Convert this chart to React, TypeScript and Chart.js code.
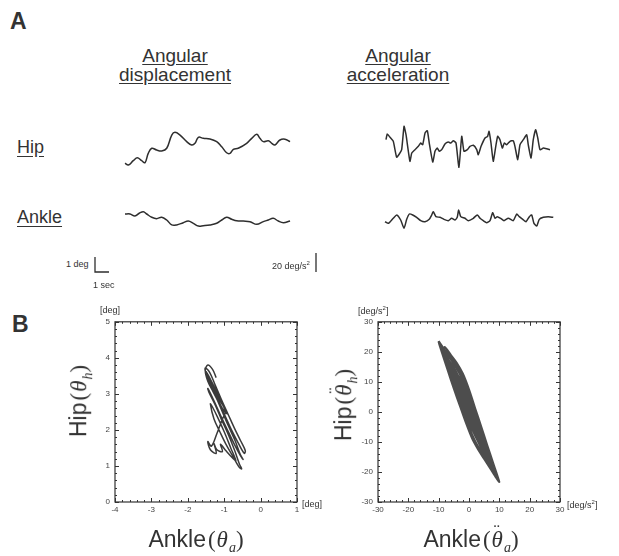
import React, { useEffect, useRef } from "react";
import { Chart, registerables } from "chart.js";

Chart.register(...registerables);

const INK = "#2e2e2e";
const SANS = "'Liberation Sans', Arial, Helvetica, sans-serif";
const SERIF = "'Liberation Serif', 'Times New Roman', serif";

// ---------- Panel A: time traces ----------
// Hip angular displacement (deg) vs time (s)
const hipDispTime = [0, 0.24, 0.59, 0.88, 1.19, 1.43, 1.66, 1.91, 2.26, 2.62, 2.98, 3.34, 3.57, 3.93, 4.41, 4.76, 5.0, 5.24, 5.59, 6.07, 6.55, 6.91, 7.26, 7.5, 7.74, 8.09, 8.69, 9.05, 9.41, 9.64, 9.88, 10.24, 10.48, 10.71, 11.07, 11.43, 11.79];
const hipDispDeg = [0.95, 0.83, 1.12, 1.32, 1.12, 0.99, 1.61, 1.95, 1.83, 1.77, 1.95, 2.83, 3.01, 2.83, 2.39, 2.17, 2.28, 2.68, 2.61, 2.57, 2.39, 2.05, 1.65, 1.61, 1.88, 1.95, 2.28, 2.61, 2.88, 2.61, 2.39, 2.45, 2.28, 2.17, 2.5, 2.55, 2.39];

// Ankle angular displacement (deg) vs time (s)
const ankleDispTime = [0, 0.36, 0.71, 1.02, 1.31, 1.55, 1.91, 2.26, 2.62, 2.98, 3.34, 3.69, 4.16, 4.52, 4.88, 5.24, 5.59, 6.07, 6.55, 6.91, 7.26, 7.62, 7.98, 8.45, 8.93, 9.41, 9.88, 10.24, 10.59, 10.95, 11.31, 11.79];
const ankleDispDeg = [-0.7, -0.7, -0.83, -0.65, -0.55, -0.7, -0.92, -1.01, -0.92, -1.1, -1.43, -1.43, -1.28, -1.17, -1.32, -1.5, -1.48, -1.43, -1.32, -1.1, -0.92, -1.05, -1.15, -1.17, -1.21, -1.39, -1.21, -1.1, -0.99, -1.17, -1.28, -1.17];

// Hip angular acceleration (deg/s^2) vs time (s)
const hipAccTime = [0, 0.09, 0.29, 0.52, 0.76, 0.95, 1.12, 1.29, 1.43, 1.71, 1.84, 2.07, 2.31, 2.48, 2.62, 2.79, 2.95, 3.09, 3.34, 3.5, 3.66, 3.81, 3.98, 4.21, 4.45, 4.62, 4.81, 5.0, 5.21, 5.41, 5.57, 5.81, 6.0, 6.24, 6.48, 6.59, 6.79, 7.07, 7.26, 7.36, 7.5, 7.66, 7.84, 7.98, 8.14, 8.31, 8.45, 8.62, 8.86, 9.09, 9.21, 9.41, 9.57, 9.81, 10.05, 10.16, 10.36, 10.52, 10.69, 10.84, 11.0, 11.24, 11.48, 11.71];
const hipAccVal = [7.7, 13.7, 10.2, 6.0, -10.8, -7.4, -2.8, 21.8, 12.9, -15.1, -6.3, -2.8, 0.7, 4.2, 2.4, 14.7, 17.2, 4.2, -15.8, -4.5, -1.1, -4.5, -2.8, 3.2, 5.3, 4.2, 6.6, 4.2, -21.4, 11.3, -4.5, -2.8, 0.7, 1.8, -2.8, -8.1, 0.7, 9.5, 11.3, 16.5, 4.2, -15.1, 0.7, 11.3, 7.7, -1.1, 4.2, 2.4, 6.0, 6.6, 0.7, -13.4, 2.4, 7.7, 12.9, 2.4, -11.6, 7.7, 18.2, 9.5, -2.8, -1.1, -1.8, -2.8];

// Ankle angular acceleration (deg/s^2) vs time (s)
const ankleAccTime = [0, 0.24, 0.59, 0.84, 1.12, 1.36, 1.55, 1.74, 1.98, 2.26, 2.55, 2.86, 3.16, 3.34, 3.45, 3.64, 3.93, 4.21, 4.52, 4.76, 5.0, 5.16, 5.26, 5.41, 5.71, 5.95, 6.31, 6.59, 6.79, 7.02, 7.26, 7.5, 7.69, 7.86, 8.02, 8.26, 8.5, 8.81, 9.16, 9.41, 9.59, 9.84, 10.07, 10.31, 10.48, 10.64, 10.84, 11.02, 11.31, 11.66, 12.02];
const ankleAccVal = [-3.9, -5.6, -0.3, 3.2, -2.1, -10.8, -1.4, 4.2, 3.2, 0.7, -2.8, -3.9, -1.4, 3.2, 6.6, 1.4, 0.7, -1.4, -2.8, -0.3, -2.1, 0.7, 8.4, 1.4, -0.3, -2.8, -0.3, 3.2, -0.3, -2.8, -4.9, -2.8, 5.6, -0.3, 1.4, -0.3, -2.8, -0.3, -2.8, 4.2, 1.4, -1.4, -3.9, 1.4, 3.2, -5.6, -8.4, -1.4, 0.7, 1.4, 0.7];

// Scale bars
const scaleBarSec = 1;
const scaleBarDeg = 1;
const scaleBarAcc = 20;

// ---------- Panel B: phase plots ----------
const phaseAnkleDeg = [-1.22, -1.32, -1.45, -1.52, -1.45, -1.3, -1.15, -0.98, -0.8, -0.62, -0.45, -0.42, -0.55, -0.72, -0.9, -1.08, -1.25, -1.4, -1.52, -1.5, -1.38, -1.22, -1.05, -0.88, -0.7, -0.55, -0.48, -0.55, -0.72, -0.92, -1.12, -1.3, -1.45, -1.42, -1.25, -1.08, -0.9, -0.72, -0.58, -0.52, -0.6, -0.78, -0.95, -1.12, -1.28, -1.38, -1.33, -1.18, -1.0, -0.82, -0.68, -0.75, -0.95, -1.1, -1.05, -1.2, -1.28, -1.22, -1.38, -1.45, -1.35, -1.2, -1.05, -0.95, -1.08, -1.25, -1.42, -1.5, -1.35, -1.18, -1.02, -0.92, -1.05, -1.22, -1.38, -1.48];
const phaseHipDeg = [3.45, 3.68, 3.8, 3.65, 3.35, 3.05, 2.75, 2.4, 2.0, 1.65, 1.35, 1.42, 1.7, 2.05, 2.45, 2.85, 3.25, 3.6, 3.72, 3.55, 3.25, 2.9, 2.5, 2.1, 1.7, 1.3, 1.18, 1.28, 1.6, 2.02, 2.45, 2.85, 3.15, 3.05, 2.7, 2.3, 1.9, 1.45, 1.05, 0.92, 0.98, 1.3, 1.6, 1.95, 2.3, 2.72, 2.65, 2.35, 1.95, 1.5, 1.15, 1.2, 1.42, 1.6, 1.4, 1.45, 1.62, 1.35, 1.45, 1.68, 1.55, 1.9, 2.3, 2.55, 2.75, 3.1, 3.45, 3.62, 3.35, 3.0, 2.65, 2.45, 2.6, 2.95, 3.3, 3.58];

const phaseAnkleAcc = [-10, -8, -6, -4, -2, 0, 2, 4, 6, 8, 9.5, 9, 7, 5, 3, 1, -1, -3, -5, -7, -9, -8.5, -6, -4, -2, 0, 2, 4, 6, 8, 10, 9, 7, 5, 3, 1, -1, -3, -5, -7, -9, -10, -9, -7, -5, -3, -1, 1, 3, 5, 7, 8.5, 8, 6, 4, 2, 0, -2, -4, -6, -8, -8, -6, -4, -2, 0, 2, 4, 6, 7, 6, 4, 2, 0, -2, -4, -6, -5, -3, -1, 1, 3, 5, 7, 5, 3, 1, -1, -3, -5, -7, -9.5, -9, -7, -5, -3, -1, 1, 3, 5, 7, 9, 9.5, 8, 6, 4, 2, 0, -2, -4, -6, -8, -8, -6, -4, -2, 0, 2, 4, 6, 8, 8, 6, 4, 2, 0, -2, -4, -6, -8, -10, -9, -6, -3, 0, 3, 6, 9, 9, 6, 3, 0, -3, -6, -9, -9, -6, -3, 0, 3, 6, 9, 8, 5, 2, -1, -4, -7, -10, -8, -5, -2, 1, 4, 7, 7, 4, 1, -2, -5, -8];
const phaseHipAcc = [23.6, 20.6, 17.5, 14.3, 10.7, 6, 0.3, -5.3, -11.5, -17.1, -22.1, -21.5, -17.8, -14.7, -11.5, -7.8, -3.2, 2.5, 8.2, 14.3, 20.5, 21.3, 18, 15.3, 11.7, 7, 1.3, -4.8, -11, -17.1, -23.3, -22, -18.8, -15.7, -12.5, -8.8, -3.7, 2, 7.7, 13.8, 20, 23.3, 21.5, 17.8, 14.7, 11, 6.8, 1.7, -4, -9.7, -15.3, -19.8, -19.1, -15, -11.3, -7.7, -3, 2.2, 7.3, 13, 18.1, 21.6, 19, 16.3, 12.7, 7.5, 1.3, -5.3, -12, -15.8, -16, -13.3, -9.7, -5, 0.7, 6.3, 12.5, 13.7, 10, 5.3, 0.2, -5, -10.7, -16.3, -12.7, -8.5, -4.3, 0.3, 5.5, 10.7, 16.3, 22.1, 22, 18.8, 16.2, 12.5, 7.3, 1.7, -4, -9.7, -15.3, -20.5, -22.1, -18.6, -13.5, -8.3, -3.2, 1.5, 5.7, 9.8, 14, 18.6, 17.6, 12, 6.3, 1.2, -3.5, -7.7, -11.3, -15, -18.6, -17.6, -12, -5.8, -0.2, 4.5, 8.7, 12.3, 16, 19.6, 23.3, 21.5, 15.5, 9, 2, -5.5, -13.5, -21, -21.5, -16, -10, -3.5, 4, 12, 20, 21, 13.5, 6, -1, -7.5, -14, -21, -18.6, -11.2, -4.2, 2.8, 9.8, 16.3, 23.3, 18.6, 10.2, 2.7, -3.8, -10.3, -16.3, -15.8, -8.3, -2.8, 4.7, 12.7, 19.1];

const dispXTicks = [-4, -3, -2, -1, 0, 1];
const dispYTicks = [0, 1, 2, 3, 4, 5];
const accXTicks = [-30, -20, -10, 0, 10, 20, 30];
const accYTicks = [-30, -20, -10, 0, 10, 20, 30];

// ---------- components ----------
const PAD = 6;

type TraceProps = {
  t: number[]; v: number[]; xMin?: number; xMax: number; yMin: number; yMax: number;
  left: number; top: number; width: number; height: number; tension?: number; lineWidth?: number;
};

function Trace(p: TraceProps) {
  const ref = useRef<HTMLCanvasElement>(null);
  useEffect(() => {
    const chart = new Chart(ref.current as HTMLCanvasElement, {
      type: "line",
      data: {
        datasets: [{
          data: p.t.map((x, i) => ({ x, y: p.v[i] })),
          borderColor: INK, borderWidth: p.lineWidth ?? 1.5, pointRadius: 0,
          tension: p.tension ?? 0.4, fill: false, clip: false,
        } as any],
      },
      options: {
        responsive: false, animation: false, devicePixelRatio: 1,
        layout: { padding: PAD },
        plugins: { legend: { display: false }, tooltip: { enabled: false } },
        scales: {
          x: { type: "linear", display: false, min: p.xMin ?? 0, max: p.xMax },
          y: { type: "linear", display: false, min: p.yMin, max: p.yMax },
        },
      },
    });
    return () => chart.destroy();
  }, []);
  return (
    <canvas ref={ref} width={p.width + 2 * PAD} height={p.height + 2 * PAD}
      style={{ position: "absolute", left: p.left - PAD, top: p.top - PAD }} />
  );
}

const frameTicks = {
  id: "frameTicks",
  afterDraw(chart: any, _args: any, opts: any) {
    const { ctx, chartArea } = chart;
    const { left, right, top, bottom } = chartArea;
    const xs = chart.scales.x, ys = chart.scales.y;
    ctx.save();
    ctx.strokeStyle = "#333";
    ctx.lineWidth = 1.2;
    ctx.strokeRect(left, top, right - left, bottom - top);
    ctx.lineWidth = 1;
    ctx.beginPath();
    const isMajor = (v: number, arr: number[]) => arr.some((a) => Math.abs(a - v) < 1e-6);
    for (let v = xs.min; v <= xs.max + 1e-9; v += opts.minorX) {
      const px = Math.round(xs.getPixelForValue(v)) + 0.5;
      const len = isMajor(v, opts.xTicks) ? 4 : 2;
      ctx.moveTo(px, bottom); ctx.lineTo(px, bottom - len);
      ctx.moveTo(px, top); ctx.lineTo(px, top + len);
    }
    for (let v = ys.min; v <= ys.max + 1e-9; v += opts.minorY) {
      const py = Math.round(ys.getPixelForValue(v)) + 0.5;
      const len = isMajor(v, opts.yTicks) ? 4 : 2;
      ctx.moveTo(left, py); ctx.lineTo(left + len, py);
      ctx.moveTo(right, py); ctx.lineTo(right - len, py);
    }
    ctx.stroke();
    ctx.restore();
  },
};

type PhaseProps = {
  xs: number[]; ys: number[]; xTicks: number[]; yTicks: number[]; minorX: number; minorY: number;
  left: number; top: number; width: number; height: number; yLabelW: number;
  tension: number; lineWidth: number; color: string;
};

function Phase(p: PhaseProps) {
  const ref = useRef<HTMLCanvasElement>(null);
  useEffect(() => {
    const tickFont = { family: SANS, size: 8 };
    const chart = new Chart(ref.current as HTMLCanvasElement, {
      type: "scatter",
      data: {
        datasets: [{
          data: p.xs.map((x, i) => ({ x, y: p.ys[i] })),
          showLine: true, borderColor: p.color, borderWidth: p.lineWidth,
          pointRadius: 0, tension: p.tension, fill: false,
        } as any],
      },
      options: {
        responsive: false, animation: false, devicePixelRatio: 1,
        layout: { padding: { left: 4, right: 8, top: 7, bottom: 1 } },
        plugins: {
          legend: { display: false }, tooltip: { enabled: false },
          frameTicks: { minorX: p.minorX, minorY: p.minorY, xTicks: p.xTicks, yTicks: p.yTicks },
        } as any,
        scales: {
          x: {
            type: "linear", min: p.xTicks[0], max: p.xTicks[p.xTicks.length - 1],
            grid: { display: false, drawTicks: false }, border: { display: false },
            ticks: { font: tickFont, color: "#444", padding: 3, autoSkip: false, maxRotation: 0 },
            afterBuildTicks: (s: any) => { s.ticks = p.xTicks.map((value) => ({ value })); },
            afterFit: (s: any) => { s.height = 14; },
          },
          y: {
            type: "linear", min: p.yTicks[0], max: p.yTicks[p.yTicks.length - 1],
            grid: { display: false, drawTicks: false }, border: { display: false },
            ticks: { font: tickFont, color: "#444", padding: 5, autoSkip: false },
            afterBuildTicks: (s: any) => { s.ticks = p.yTicks.map((value) => ({ value })); },
            afterFit: (s: any) => { s.width = p.yLabelW; },
          },
        },
      } as any,
      plugins: [frameTicks],
    });
    return () => chart.destroy();
  }, []);
  return (
    <canvas ref={ref} width={p.width} height={p.height}
      style={{ position: "absolute", left: p.left, top: p.top }} />
  );
}

const abs = (left: number, top: number, extra: React.CSSProperties = {}): React.CSSProperties => ({
  position: "absolute", left, top, whiteSpace: "nowrap", lineHeight: 1, ...extra,
});

function Theta({ dots, sub }: { dots?: boolean; sub: string }) {
  return (
    <span style={{ fontFamily: SERIF, marginLeft: 2 }}>
      (
      <span style={{ position: "relative", display: "inline-block", marginLeft: 1 }}>
        <i>θ</i>
        {dots ? (
          <span style={{ position: "absolute", left: 2, top: -7, fontSize: 19, fontStyle: "normal" }}>¨</span>
        ) : null}
      </span>
      <sub style={{ fontSize: 14, fontStyle: "italic", marginLeft: 1 }}>{sub}</sub>)
    </span>
  );
}

export default function App() {
  const heading: React.CSSProperties = {
    fontSize: 19, lineHeight: "19px", textAlign: "center", color: "#333",
    textDecoration: "underline", textUnderlineOffset: 2, transform: "translateX(-50%)",
  };
  const axisBig: React.CSSProperties = { fontSize: 23, color: "#333" };
  const small: React.CSSProperties = { fontSize: 9, color: "#333" };
  return (
    <div style={{ position: "absolute", left: 0, top: 0, width: 619, height: 556, background: "#fff", fontFamily: SANS, overflow: "hidden" }}>
      {/* Panel A */}
      <div style={abs(10, 10, { fontSize: 23, fontWeight: "bold", color: "#333" })}>A</div>
      <div style={abs(175, 45.5, heading)}>Angular<br />displacement</div>
      <div style={abs(398, 45.5, heading)}>Angular<br />acceleration</div>
      <div style={abs(17, 138, { fontSize: 18, color: "#333", textDecoration: "underline", textUnderlineOffset: 3 })}>Hip</div>
      <div style={abs(17, 208, { fontSize: 18, color: "#333", textDecoration: "underline", textUnderlineOffset: 3 })}>Ankle</div>

      <Trace t={hipDispTime} v={hipDispDeg} xMax={11.786} yMin={0.5} yMax={3.5} left={125} top={125} width={165} height={45} />
      <Trace t={ankleDispTime} v={ankleDispDeg} xMax={11.786} yMin={-1.9} yMax={-0.1} left={125} top={205} width={165} height={27} />
      <Trace t={hipAccTime} v={hipAccVal} xMax={11.714} yMin={-26.32} yMax={26.32} left={386} top={122} width={164} height={50} tension={0.15} />
      <Trace t={ankleAccTime} v={ankleAccVal} xMax={12.0} yMin={-18.95} yMax={18.95} left={385} top={200} width={168} height={36} tension={0.2} />

      {/* scale bars */}
      <Trace t={[0, 0, scaleBarSec]} v={[scaleBarDeg, 0, 0]} xMax={1} yMin={0} yMax={1} left={95} top={257} width={14} height={15} tension={0} lineWidth={1.3} />
      <Trace t={[0, 0]} v={[0, scaleBarAcc]} xMin={-1} xMax={1} yMin={0} yMax={20} left={314} top={253} width={4} height={19} tension={0} lineWidth={1.3} />
      <div style={abs(66, 259.5, small)}>1 deg</div>
      <div style={abs(93, 280.5, small)}>1 sec</div>
      <div style={abs(272, 259.5, small)}>20 deg/s<sup style={{ fontSize: 6 }}>2</sup></div>

      {/* Panel B */}
      <div style={abs(12, 313, { fontSize: 23, fontWeight: "bold", color: "#333" })}>B</div>

      <Phase xs={phaseAnkleDeg} ys={phaseHipDeg} xTicks={dispXTicks} yTicks={dispYTicks} minorX={0.2} minorY={0.2}
        left={95} top={312} width={210} height={205} yLabelW={16} tension={0.35} lineWidth={1.5} color="#3a3a3a" />
      <Phase xs={phaseAnkleAcc} ys={phaseHipAcc} xTicks={accXTicks} yTicks={accYTicks} minorX={2} minorY={2}
        left={352} top={312} width={216} height={205} yLabelW={22} tension={0.25} lineWidth={2} color="#4d4d4d" />

      <div style={abs(100, 305.5, small)}>[deg]</div>
      <div style={abs(302, 500, small)}>[deg]</div>
      <div style={abs(358, 305, small)}>[deg/s<sup style={{ fontSize: 6 }}>2</sup>]</div>
      <div style={abs(567, 499, small)}>[deg/s<sup style={{ fontSize: 6 }}>2</sup>]</div>

      <div style={abs(81, 401, { ...axisBig, transform: "translate(-50%,-50%) rotate(-90deg)" })}>
        Hip<Theta sub="h" />
      </div>
      <div style={abs(346, 405, { ...axisBig, transform: "translate(-50%,-50%) rotate(-90deg)" })}>
        Hip<Theta sub="h" dots />
      </div>
      <div style={abs(196, 527.5, { ...axisBig, transform: "translateX(-50%)" })}>
        Ankle<Theta sub="a" />
      </div>
      <div style={abs(471, 527.5, { ...axisBig, transform: "translateX(-50%)" })}>
        Ankle<Theta sub="a" dots />
      </div>
    </div>
  );
}
